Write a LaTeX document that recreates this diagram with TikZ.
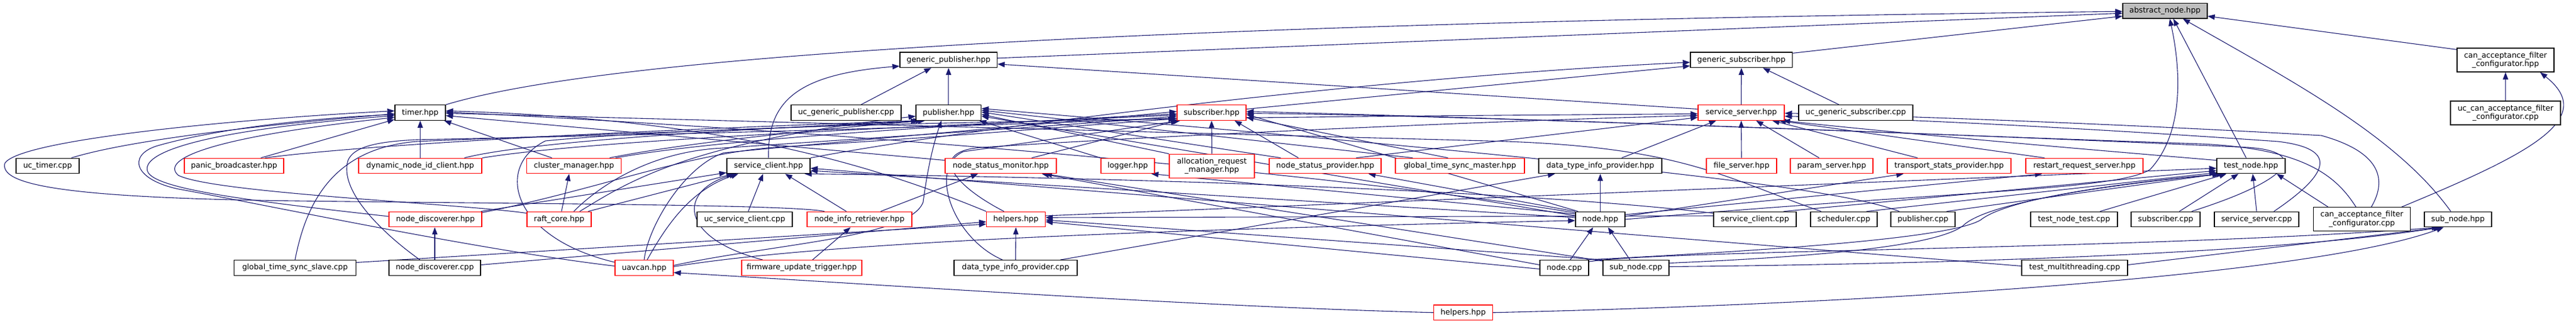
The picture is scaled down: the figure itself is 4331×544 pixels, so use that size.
\documentclass[tikz,border=0pt]{standalone}
\usepackage{fontspec}
\setmainfont{DejaVu Sans}
\usetikzlibrary{arrows.meta,calc}
\definecolor{edgec}{RGB}{25,25,112}
\definecolor{nodegray}{RGB}{191,191,191}
\pgfdeclarelayer{bg}
\pgfsetlayers{bg,main}
\begin{document}
\begin{tikzpicture}[x=1pt,y=-1pt,
 box/.style={draw=black,line width=1.3pt,fill=white,inner sep=0pt,minimum height=25.5pt,
   font=\fontsize{12.8}{14.2}\selectfont,align=center},
 rbox/.style={box,draw=red},
 tall/.style={minimum height=40pt},
 e/.style={draw=edgec,line width=1.1pt,-{Triangle[length=12pt,width=9pt]}},
]
\useasboundingbox (0,0) rectangle (4331,544);
% rank 0/1
\node[box,fill=nodegray,minimum width=142pt] (abstract) at (3640,18.2) {abstract\_node.hpp};
\node[box,minimum width=163.5pt] (genpub) at (1594.8,100.8) {generic\_publisher.hpp};
\node[box,minimum width=171.6pt] (gensub) at (2927.8,100.8) {generic\_subscriber.hpp};
\node[box,tall,minimum width=163pt] (cafhpp) at (4212.5,101) {can\_acceptance\_filter\\\_configurator.hpp};
% rank 2
\node[box,minimum width=85pt] (timer) at (706.5,189.5) {timer.hpp};
\node[box,minimum width=185pt] (ucgenpub) at (1422.5,189.5) {uc\_generic\_publisher.cpp};
\node[box,minimum width=109.5pt] (pub) at (1594.8,189.5) {publisher.hpp};
\node[rbox,minimum width=116pt] (sub) at (2037,189.5) {subscriber.hpp};
\node[rbox,minimum width=145pt] (ss) at (2927.5,189.5) {service\_server.hpp};
\node[box,minimum width=192pt] (ucgensub) at (3120,189.5) {uc\_generic\_subscriber.cpp};
\node[box,tall,minimum width=185pt] (uccaf) at (4212.5,190) {uc\_can\_acceptance\_filter\\\_configurator.cpp};
% rank 3
\node[box,minimum width=106pt] (uctimer) at (80,279) {uc\_timer.cpp};
\node[rbox,minimum width=167pt] (panic) at (393.5,279) {panic\_broadcaster.hpp};
\node[rbox,minimum width=207pt] (dnic) at (706.5,279) {dynamic\_node\_id\_client.hpp};
\node[rbox,minimum width=158.5pt] (cluster) at (965,279) {cluster\_manager.hpp};
\node[box,minimum width=140pt] (scli) at (1292,279) {service\_client.hpp};
\node[rbox,minimum width=187pt] (nsm) at (1682.5,279) {node\_status\_monitor.hpp};
\node[rbox,minimum width=90pt] (logger) at (1896,279) {logger.hpp};
\node[rbox,tall,minimum width=143pt] (arm) at (2037.5,279.3) {allocation\_request\\\_manager.hpp};
\node[rbox,minimum width=188pt] (nsp) at (2228,279) {node\_status\_provider.hpp};
\node[rbox,minimum width=217pt] (gtsm) at (2454.5,279) {global\_time\_sync\_master.hpp};
\node[box,minimum width=207pt] (dtip) at (2690.5,279) {data\_type\_info\_provider.hpp};
\node[rbox,minimum width=118pt] (fsrv) at (2928,279) {file\_server.hpp};
\node[rbox,minimum width=139pt] (param) at (3079.5,279) {param\_server.hpp};
\node[rbox,minimum width=208pt] (tsp) at (3277,279) {transport\_stats\_provider.hpp};
\node[rbox,minimum width=197pt] (rrs) at (3504.5,279) {restart\_request\_server.hpp};
\node[box,minimum width=115pt] (testnode) at (3784.5,279) {test\_node.hpp};
% rank 4
\node[rbox,minimum width=156pt] (nd) at (732,369) {node\_discoverer.hpp};
\node[rbox,minimum width=108pt] (raft) at (940,369) {raft\_core.hpp};
\node[box,minimum width=160pt] (ucscli) at (1252,369) {uc\_service\_client.cpp};
\node[rbox,minimum width=176pt] (nir) at (1445,369) {node\_info\_retriever.hpp};
\node[rbox,minimum width=98.5pt] (helpa) at (1708,369) {helpers.hpp};
\node[box,minimum width=83pt] (nodehpp) at (2690.5,369) {node.hpp};
\node[box,minimum width=139pt] (sclicpp) at (2950.5,369) {service\_client.cpp};
\node[box,minimum width=112pt] (sched) at (3100,369) {scheduler.cpp};
\node[box,minimum width=108pt] (pubcpp) at (3233,369) {publisher.cpp};
\node[box,minimum width=146pt] (tntest) at (3487,369) {test\_node\_test.cpp};
\node[box,minimum width=116pt] (subcpp) at (3641,369) {subscriber.cpp};
\node[box,minimum width=142pt] (sscpp) at (3794,369) {service\_server.cpp};
\node[box,tall,minimum width=162.5pt] (cafcpp) at (3971,368.7) {can\_acceptance\_filter\\\_configurator.cpp};
\node[box,minimum width=113pt] (subnodehpp) at (4132.5,369) {sub\_node.hpp};
% rank 5
\node[box,minimum width=205pt] (gtss) at (496,450.5) {global\_time\_sync\_slave.cpp};
\node[box,minimum width=154pt] (ndcpp) at (731,450.5) {node\_discoverer.cpp};
\node[rbox,minimum width=98pt] (uavcan) at (1083,450.5) {uavcan.hpp};
\node[rbox,minimum width=202pt] (fut) at (1348,450.5) {firmware\_update\_trigger.hpp};
\node[box,minimum width=207pt] (dtipcpp) at (1707.5,450.5) {data\_type\_info\_provider.cpp};
\node[box,minimum width=82pt] (nodecpp) at (2630,450.5) {node.cpp};
\node[box,minimum width=111pt] (subnodecpp) at (2750.5,450.5) {sub\_node.cpp};
\node[box,minimum width=178pt] (tmt) at (3488,450.5) {test\_multithreading.cpp};
% rank 6
\node[rbox,minimum width=98.5pt] (helpb) at (2460,525.8) {helpers.hpp};

\begin{pgfonlayer}{bg}
% abstract_node
\draw[e] (timer.north east) .. controls (1000,100) and (1800,40) .. ($(abstract.west)+(0,1)$);
\draw[e] ($(genpub.east)+(0,-3)$) -- ($(abstract.west)+(0,4)$);
\draw[e] ($(gensub.north east)+(0,2)$) -- ($(abstract.west)+(0,9)$);
\draw[e] ($(cafhpp.north west)+(0,3)$) -- ($(abstract.east)+(0,9)$);
\draw[e] ($(testnode.north)+(-8,0)$) -- ($(abstract.south)+(14,0)$);
\draw[e] ($(subnodehpp.north)+(-12,0)$) .. controls (4030,230) and (3860,140) .. ($(abstract.south)+(30,0)$);
\draw[e] (nodehpp.east) .. controls (3300,320) and (3560,320) .. (3615,285) .. controls (3675,220) and (3665,110) .. ($(abstract.south)+(8,0)$);
% generic_publisher
\draw[e] ($(ucgenpub.north)+(25,0)$) -- ($(genpub.south)+(-29,0)$);
\draw[e] (pub.north) -- (genpub.south);
\draw[e] (scli.north) .. controls (1290,170) and (1340,125) .. ($(genpub.south west)+(0,-3)$);
\draw[e] ($(ss.west)+(0,-6)$) -- ($(genpub.east)+(0,7)$);
% generic_subscriber
\draw[e] (ss.north) -- (gensub.south);
\draw[e] ($(ucgensub.north)+(-28,0)$) -- ($(gensub.south)+(36,0)$);
\draw[e] ($(sub.east)+(0,-6)$) -- ($(gensub.west)+(0,10)$);
\draw[e] (scli.north east) .. controls (1600,220) and (2300,130) .. ($(gensub.west)+(0,4)$);
% can_acceptance_filter_configurator.hpp
\draw[e] (uccaf.north) -- (cafhpp.south);
\draw[e] ($(cafcpp.north east)+(-15,0)$) .. controls (4250,260) and (4370,200) .. ($(cafhpp.south east)+(-24,0)$);
% timer
\draw[e] ($(uctimer.north)+(40,0)$) .. controls (170,250) and (300,222) .. ($(timer.west)+(0,2)$);
\draw[e] ($(panic.north)+(45,0)$) -- ($(timer.south west)+(0,-2)$);
\draw[e] (dnic.north) -- (timer.south);
\draw[e] ($(cluster.north)+(-37,0)$) -- ($(timer.south east)+(-3,0)$);
\draw[e] ($(nir.north west)+(30,0)$) .. controls (1330,344) and (900,343) .. (500,338) .. controls (100,333) and (0,310) .. (8,275) .. controls (30,235) and (400,200) .. ($(timer.west)+(0,-3)$);
\draw[e] ($(uavcan.west)+(0,-3)$) .. controls (800,420) and (450,345) .. (300,318) .. controls (225,302) and (215,262) .. (262,246) .. controls (350,220) and (500,200) .. ($(timer.west)+(0,3)$);
\draw[e] ($(nd.west)+(0,-5)$) .. controls (420,338) and (258,318) .. (248,288) .. controls (238,258) and (330,220) .. ($(timer.west)+(0,5)$);
\draw[e] ($(raft.north west)+(0,3)$) .. controls (780,343) and (360,325) .. (300,295) .. controls (270,270) and (340,232) .. ($(timer.west)+(0,8)$);
\draw[e] ($(sched.north)+(-38,0)$) .. controls (2900,300) and (2830,245) .. (2500,237) -- ($(timer.east)+(0,1)$);
\draw[e] ($(nsm.north west)+(0,4)$) -- ($(timer.east)+(0,5)$);
\draw[e] (helpa.north west) .. controls (1450,270) and (1200,200) .. ($(timer.east)+(0,-3)$);
\draw[e] ($(nodehpp.west)+(0,-11)$) .. controls (2300,300) and (1500,225) .. ($(timer.east)+(0,-1)$);
% publisher
\draw[e] ($(panic.north)+(52,0)$) .. controls (560,250) and (900,225) .. ($(pub.south west)+(8,0)$);
\draw[e] ($(dnic.north east)+(-30,0)$) .. controls (900,235) and (1300,215) .. ($(pub.south west)+(12,0)$);
\draw[e] ($(cluster.north east)+(-20,0)$) .. controls (1150,240) and (1400,215) .. ($(pub.south west)+(16,0)$);
\draw[e] ($(raft.north east)+(-20,0)$) .. controls (1050,310) and (1150,240) .. ($(pub.west)+(0,6)$);
\draw[e] ($(uavcan.east)+(0,-4)$) .. controls (1300,410) and (1530,400) .. (1552,340) .. controls (1560,280) and (1570,240) .. ($(pub.south)+(-12,0)$);
\draw[e] (logger.north west) -- ($(pub.south east)+(-4,0)$);
\draw[e] (arm.north west) -- ($(pub.east)+(0,3)$);
\draw[e] ($(nsp.north west)+(20,0)$) -- ($(pub.east)+(0,-1)$);
\draw[e] ($(gtsm.north west)+(30,0)$) -- ($(pub.east)+(0,-4)$);
\draw[e] ($(nodehpp.west)+(0,-6)$) -- ($(pub.east)+(0,6)$);
\draw[e] ($(pubcpp.north west)+(15,0)$) .. controls (3100,320) and (2800,280) .. ($(pub.east)+(0,-7)$);
\draw[e] (gtss.north) .. controls (515,340) and (560,250) .. (700,238) .. controls (1000,225) and (1400,215) .. ($(pub.south west)+(4,0)$);
% subscriber
\draw[e] ($(ndcpp.north)+(-25,0)$) .. controls (640,390) and (570,320) .. (585,270) .. controls (595,245) and (640,238) .. (700,235) .. controls (1200,225) and (1700,210) .. ($(sub.west)+(0,9)$);
\draw[e] ($(nsm.north)+(52,0)$) -- ($(sub.south west)+(2,0)$);
\draw[e] (dnic.north east) .. controls (1000,235) and (1500,215) .. ($(sub.west)+(0,4)$);
\draw[e] ($(cluster.north east)+(-10,0)$) .. controls (1200,235) and (1600,210) .. ($(sub.west)+(0,2)$);
\draw[e] ($(raft.north east)+(-30,0)$) .. controls (1000,320) and (1080,260) .. (1200,250) .. controls (1500,230) and (1800,210) .. ($(sub.west)+(0,6)$);
\draw[e] ($(nd.north east)+(0,2)$) .. controls (1000,320) and (1150,260) .. (1300,248) .. controls (1600,230) and (1800,212) .. ($(sub.south west)+(-2,-3)$);
\draw[e] (uavcan.north) .. controls (1090,380) and (1150,280) .. (1217,257) .. controls (1500,230) and (1800,205) .. ($(sub.west)+(0,-2)$);
\draw[e] ($(dtipcpp.north)+(-22,0)$) .. controls (1600,400) and (1560,280) .. (1620,255) .. controls (1800,230) and (1900,215) .. ($(sub.south west)+(6,0)$);
\draw[e] (arm.north) -- (sub.south);
\draw[e] ($(nsp.north)+(-45,0)$) -- ($(sub.south east)+(-20,0)$);
\draw[e] ($(gtsm.north)+(-20,0)$) -- ($(sub.east)+(0,8)$);
\draw[e] ($(nodehpp.north west)+(5,0)$) -- ($(sub.east)+(0,3)$);
\draw[e] ($(subcpp.north east)+(-15,0)$) .. controls (3860,300) and (3880,255) .. (3780,248) .. controls (3400,230) and (2600,200) .. ($(sub.east)+(0,-2)$);
\draw[e] ($(cafcpp.north)+(-10,0)$) .. controls (3930,300) and (3880,250) .. (3700,242) .. controls (3200,225) and (2500,195) .. ($(sub.east)+(0,1)$);
% service_server
\draw[e] ($(uavcan.north west)+(0,4)$) .. controls (860,400) and (830,280) .. (917,237) .. controls (1300,200) and (2400,195) .. ($(ss.west)+(0,2)$);
\draw[e] ($(helpa.north)+(-20,0)$) .. controls (1600,310) and (1560,255) .. (1650,248) .. controls (2000,225) and (2600,200) .. ($(ss.west)+(0,5)$);
\draw[e] ($(nsp.north)+(52,0)$) -- ($(ss.west)+(0,8)$);
\draw[e] ($(dtip.north)+(36,0)$) -- ($(ss.south west)+(31,0)$);
\draw[e] (fsrv.north) -- (ss.south);
\draw[e] ($(param.north)+(-21,0)$) -- ($(ss.south)+(25,0)$);
\draw[e] ($(tsp.north)+(-53,0)$) -- ($(ss.south east)+(-21,0)$);
\draw[e] ($(rrs.north)+(-67,0)$) -- ($(ss.south east)+(-10,0)$);
\draw[e] ($(testnode.north west)+(0,4)$) .. controls (3550,255) and (3200,225) .. ($(ss.south east)+(-3,0)$);
\draw[e] ($(sscpp.north)+(29,0)$) .. controls (3920,290) and (3930,250) .. (3830,238) .. controls (3500,215) and (3200,200) .. ($(ss.east)+(0,6)$);
\draw[e] ($(cafcpp.north east)+(-66,0)$) .. controls (4015,300) and (4000,255) .. (3903,228) .. controls (3600,210) and (3200,195) .. ($(ss.east)+(0,1)$);
% service_client
\draw[e] ($(ucscli.north)+(6,0)$) -- ($(scli.south)+(-9,0)$);
\draw[e] ($(nir.north)+(-22,0)$) -- ($(scli.south)+(28,0)$);
\draw[e] ($(nd.north east)+(-2,0)$) -- ($(scli.south west)+(0,-2)$);
\draw[e] ($(raft.north east)+(-6,0)$) -- ($(scli.south west)+(12,0)$);
\draw[e] ($(uavcan.north)+(5,0)$) .. controls (1120,380) and (1160,320) .. ($(scli.south west)+(20,0)$);
\draw[e] ($(fut.north west)+(36,0)$) .. controls (1140,400) and (1140,320) .. ($(scli.south west)+(17,0)$);
\draw[e] ($(nodehpp.west)+(0,-3)$) -- ($(scli.east)+(0,8)$);
\draw[e] ($(sclicpp.north west)+(0,3)$) .. controls (2600,325) and (2000,300) .. ($(scli.south east)+(-10,0)$);
\draw[e] ($(tmt.west)+(0,-3)$) -- ($(scli.east)+(0,4)$);
% node_status_monitor etc
\draw[e] ($(nir.north east)+(-53,0)$) -- ($(nsm.south west)+(56,0)$);
\draw[e] ($(nodecpp.west)+(0,-5)$) -- ($(nsm.south east)+(-25,0)$);
\draw[e] ($(subnodecpp.north west)+(0,2)$) -- ($(nsm.south east)+(-20,0)$);
\draw[e] ($(nodehpp.west)+(0,-9)$) -- ($(logger.south east)+(-6,0)$);
\draw[e] (nodehpp.north west) -- ($(nsp.south east)+(-22,0)$);
\draw[e] (nodehpp.north) -- (dtip.south);
\draw[e] ($(nodehpp.east)+(0,-5)$) -- ($(tsp.south west)+(28,0)$);
\draw[e] ($(nodehpp.east)+(0,-8)$) -- ($(rrs.south west)+(28,0)$);
\draw[e] ($(dtipcpp.north east)+(-29,0)$) -- ($(dtip.south west)+(28,0)$);
\draw[e] ($(raft.north)+(4,0)$) -- ($(cluster.south)+(-8,0)$);
\draw[e] (ndcpp.north) -- ($(nd.south)+(-1,0)$);
\draw[e] ($(fut.north)+(18,0)$) -- ($(nir.south)+(-15,0)$);
% helpers (rank 4)
\draw[e] (dtipcpp.north) -- (helpa.south);
\draw[e] ($(gtss.east)+(0,-9)$) -- ($(helpa.west)+(0,8)$);
\draw[e] ($(ndcpp.east)+(0,-5)$) -- ($(helpa.west)+(0,4)$);
\draw[e] ($(nodecpp.west)+(0,2)$) -- ($(helpa.east)+(0,4)$);
\draw[e] (subnodecpp.north west) -- ($(helpa.east)+(0,1)$);
\draw[e] ($(sclicpp.west)+(0,-6)$) -- ($(helpa.east)+(0,-3)$);
% test_node
\draw[e] ($(sclicpp.north east)+(-22,0)$) -- ($(testnode.west)+(0,8)$);
\draw[e] ($(sched.north)+(38,0)$) -- ($(testnode.south west)+(0,-2)$);
\draw[e] ($(pubcpp.north east)+(-15,0)$) -- ($(testnode.south west)+(5,0)$);
\draw[e] ($(tntest.north east)+(-30,0)$) -- ($(testnode.south west)+(17,0)$);
\draw[e] ($(subcpp.north)+(23,0)$) -- ($(testnode.south)+(-21,0)$);
\draw[e] (sscpp.north) -- ($(testnode.south)+(3,0)$);
\draw[e] ($(cafcpp.north west)+(25,0)$) -- ($(testnode.south east)+(-15,0)$);
\draw[e] ($(nodecpp.north east)+(-5,0)$) .. controls (3000,420) and (3280,400) .. (3330,370) .. controls (3380,330) and (3600,305) .. ($(testnode.south west)+(8,0)$);
\draw[e] ($(subnodecpp.east)+(0,-8)$) .. controls (3100,430) and (3260,410) .. (3300,380) .. controls (3340,340) and (3550,310) .. ($(testnode.south west)+(12,0)$);
\draw[e] ($(helpa.east)+(0,-6)$) -- ($(testnode.west)+(0,4)$);
% sub_node.hpp
\draw[e] ($(nodecpp.north east)+(0,3)$) .. controls (2800,420) and (3600,420) .. ($(subnodehpp.south west)+(25,0)$);
\draw[e] ($(subnodecpp.east)+(0,-2)$) .. controls (3200,445) and (3800,430) .. ($(subnodehpp.south west)+(28,0)$);
\draw[e] ($(tmt.east)+(0,-5)$) -- ($(subnodehpp.south west)+(30,0)$);
\draw[e] (helpb.east) .. controls (3200,510) and (3900,460) .. ($(subnodehpp.south west)+(33,0)$);
\draw[e] (helpb.west) .. controls (2000,515) and (1500,480) .. ($(uavcan.east)+(0,8)$);
% node.hpp
\draw[e] ($(nodecpp.north)+(10,0)$) -- ($(nodehpp.south)+(-12,0)$);
\draw[e] ($(subnodecpp.north)+(-10,0)$) -- ($(nodehpp.south)+(13,0)$);
\draw[e] ($(uavcan.east)+(0,-2)$) .. controls (1400,405) and (2000,385) .. ($(nodehpp.west)+(0,2)$);
\end{pgfonlayer}
\end{tikzpicture}
\end{document}
